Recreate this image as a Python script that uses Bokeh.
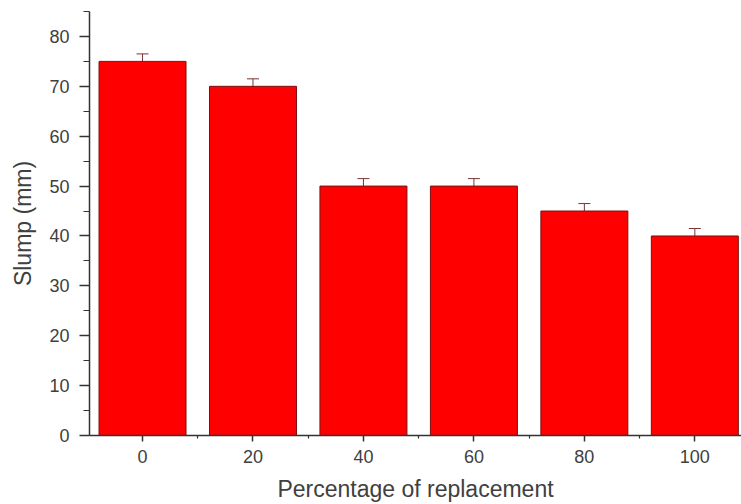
from bokeh.plotting import figure
from bokeh.models import Range1d, FixedTicker, Whisker, ColumnDataSource, TeeHead
from bokeh.embed import file_html
from bokeh.resources import INLINE

replacement = [0, 20, 40, 60, 80, 100]
slump = [75, 70, 50, 50, 45, 40]
slump_err = [1.5, 1.5, 1.5, 1.5, 1.5, 1.5]
x_minor = [10, 30, 50, 70, 90]
y_ticks = [0, 10, 20, 30, 40, 50, 60, 70, 80]
y_minor = [5, 15, 25, 35, 45, 55, 65, 75, 85]

src = ColumnDataSource(dict(
    x=replacement,
    top=slump,
    upper=[s + e for s, e in zip(slump, slump_err)],
    lower=[s - e for s, e in zip(slump, slump_err)],
))

FONT = "Liberation Sans"
TXT = "#404040"

p = figure(width=741, height=504, output_backend="svg", toolbar_location=None,
           x_range=Range1d(-9.6, 108.45), y_range=Range1d(0, 85),
           min_border_left=89, min_border_right=0, min_border_top=11,
           min_border_bottom=69)
p.outline_line_color = None
p.grid.visible = False
p.background_fill_color = "white"

p.vbar(x="x", top="top", width=15.75, source=src,
       fill_color="#ff0000", line_color="#7a1010", line_width=1)

err_color = "#7a3535"
w = Whisker(base="x", upper="upper", lower="lower", source=src,
            line_color=err_color, line_width=1,
            upper_head=TeeHead(size=12, line_color=err_color, line_width=1),
            lower_head=TeeHead(size=12, line_color=err_color, line_width=1))
p.add_layout(w)

xa = p.xaxis[0]
xa.ticker = FixedTicker(ticks=replacement, minor_ticks=x_minor)
xa.axis_label = "Percentage of replacement"
xa.major_tick_in = 0
xa.major_tick_out = 6
xa.minor_tick_in = 0
xa.minor_tick_out = 3
xa.major_label_standoff = 8
xa.axis_label_standoff = 10

ya = p.yaxis[0]
ya.ticker = FixedTicker(ticks=y_ticks, minor_ticks=y_minor)
ya.axis_label = "Slump (mm)"
ya.major_tick_in = 0
ya.major_tick_out = 10
ya.minor_tick_in = 0
ya.minor_tick_out = 6
ya.major_label_standoff = 10
ya.axis_label_standoff = 10

for ax in (xa, ya):
    ax.axis_line_color = "#333333"
    ax.axis_line_width = 1.5
    ax.major_tick_line_color = "#333333"
    ax.major_tick_line_width = 1.5
    ax.minor_tick_line_color = "#333333"
    ax.minor_tick_line_width = 1.2
    ax.major_label_text_font = FONT
    ax.major_label_text_font_size = "18px"
    ax.major_label_text_color = TXT
    ax.axis_label_text_font = FONT
    ax.axis_label_text_font_size = "23px"
    ax.axis_label_text_font_style = "normal"
    ax.axis_label_text_color = TXT

open("out.html", "w").write(file_html(p, INLINE))
